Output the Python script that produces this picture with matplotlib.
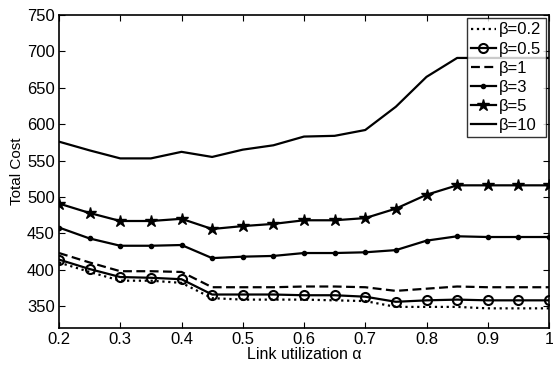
import matplotlib
matplotlib.use('Agg')
import matplotlib.pyplot as plt

plt.rcParams['font.family'] = ['Liberation Sans', 'DejaVu Sans']

alpha = [0.2, 0.25, 0.3, 0.35, 0.4, 0.45, 0.5, 0.55, 0.6, 0.65,
         0.7, 0.75, 0.8, 0.85, 0.9, 0.95, 1.0]

cost_b02 = [410, 397, 385, 385, 382, 361, 359, 359, 359, 358,
            357, 349, 349, 349, 347, 347, 347]
cost_b05 = [414, 401, 390, 389, 387, 366, 366, 366, 365, 365,
            363, 356, 358, 359, 358, 358, 358]
cost_b1 = [423, 410, 398, 398, 397, 376, 376, 376, 377, 377,
           376, 371, 374, 377, 376, 376, 376]
cost_b3 = [458, 443, 433, 433, 434, 416, 418, 419, 423, 423,
           424, 427, 440, 446, 445, 445, 445]
cost_b5 = [491, 478, 467, 467, 470, 456, 460, 463, 468, 468,
           471, 484, 503, 516, 516, 516, 516]
cost_b10 = [576, 564, 553, 553, 562, 555, 565, 571, 583, 584,
            592, 624, 665, 691, 691, 691, 691]

fig = plt.figure(figsize=(5.53, 3.67), dpi=100)
ax = fig.add_axes([59/553, 1 - 328/367, 490/553, 313/367])

lw = 1.6
ax.plot(alpha, cost_b02, 'k:', lw=lw, label='β=0.2')
ax.plot(alpha, cost_b05, 'k-', lw=lw, marker='o', ms=6.5, mfc='none', mew=1.5, label='β=0.5')
ax.plot(alpha, cost_b1, 'k--', lw=lw, dashes=(4, 2), label='β=1')
ax.plot(alpha, cost_b3, 'k-', lw=lw, marker='.', ms=6, label='β=3')
ax.plot(alpha, cost_b5, 'k-', lw=lw, marker='*', ms=9, label='β=5')
ax.plot(alpha, cost_b10, 'k-', lw=lw, label='β=10')

ax.set_xlim(0.2, 1.0)
ax.set_ylim(320, 750)
ax.set_xticks([0.2, 0.3, 0.4, 0.5, 0.6, 0.7, 0.8, 0.9, 1.0])
ax.set_xticklabels(['0.2', '0.3', '0.4', '0.5', '0.6', '0.7', '0.8', '0.9', '1'])
ax.set_yticks(range(350, 751, 50))
ax.tick_params(direction='in', top=True, right=True, labelsize=12, length=4, pad=3)
for s in ax.spines.values():
    s.set_linewidth(1.2)

ax.set_xlabel('Link utilization α', fontsize=11.5, labelpad=0)
ax.set_ylabel('Total Cost', fontsize=11, labelpad=2)

leg = ax.legend(loc='upper right', fontsize=12, frameon=True, fancybox=False,
                handlelength=1.5, handletextpad=0.2, borderpad=0.25,
                labelspacing=0.25, borderaxespad=0.2)
leg.get_frame().set_edgecolor('black')
leg.get_frame().set_linewidth(1.0)

plt.savefig('out.png', dpi=100)
